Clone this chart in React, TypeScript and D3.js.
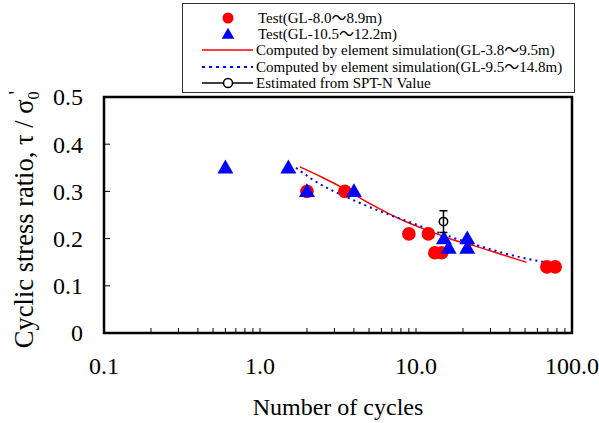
import React from "react";
import * as d3 from "d3";

const redTestN = [2.0, 3.5, 9.0, 12.0, 13.2, 14.6, 69, 78];
const redTestR = [0.30, 0.30, 0.21, 0.21, 0.17, 0.17, 0.14, 0.14];
const blueTestN = [0.6, 1.52, 2.0, 4.0, 15.1, 16.2, 21.3, 21.3];
const blueTestR = [0.35, 0.35, 0.30, 0.30, 0.20, 0.18, 0.20, 0.18];
const redSimN = [1.8, 2.5, 3.5, 5, 6.6, 9, 12, 17, 24, 35, 51];
const redSimR = [0.352, 0.33, 0.305, 0.275, 0.254, 0.233, 0.217, 0.198, 0.184, 0.167, 0.150];
const blueSimN = [1.7, 2.2, 4.2, 9.6, 21, 65, 75];
const blueSimR = [0.35, 0.324, 0.278, 0.232, 0.193, 0.151, 0.148];
const sptN = [15];
const sptR = [0.236];
const sptLo = [0.213];
const sptHi = [0.259];
const yTicks = [0, 0.1, 0.2, 0.3, 0.4, 0.5];
const xTickLabels = ["0.1", "1.0", "10.0", "100.0"];
const xDecades = [0.1, 1, 10, 100];
const legendLabels = [
  "Test(GL-8.0～8.9m)",
  "Test(GL-10.5～12.2m)",
  "Computed by element simulation(GL-3.8～9.5m)",
  "Computed by element simulation(GL-9.5～14.8m)",
  "Estimated from SPT-N Value",
];

const FONT = "'Liberation Serif', 'Times New Roman', 'Noto Sans CJK JP', serif";

export default function App() {
  const left = 104, right = 572, top = 97, bottom = 333;
  const x = d3.scaleLog().domain([0.1, 100]).range([left, right]);
  const y = d3.scaleLinear().domain([0, 0.5]).range([bottom, top]);
  const line = d3.line<[number, number]>().x((d) => x(d[0])).y((d) => y(d[1])).curve(d3.curveMonotoneX);

  const minor: number[] = [];
  xDecades.slice(0, 3).forEach((dec) => {
    for (let k = 2; k <= 9; k++) minor.push(dec * k);
  });
  minor.push(1, 10);

  const tri = d3.symbol().type(d3.symbolTriangle).size(110)()!;
  const triL = d3.symbol().type(d3.symbolTriangle).size(70)()!;

  const lx = 228;
  const ly = [18, 34, 50, 67, 83];

  return (
    <svg width={599} height={423} style={{ position: "absolute", left: 0, top: 0, background: "#fff" }} fontFamily={FONT}>
      <rect x={0} y={0} width={599} height={423} fill="#fff" />
      {/* legend */}
      <rect x={182.5} y={3.5} width={392} height={89} fill="#fff" stroke="#333" strokeWidth={1} />
      <circle cx={lx} cy={ly[0]} r={5.5} fill="#ff0000" />
      <path d={triL} transform={`translate(${lx},${ly[1] + 1})`} fill="#0000ff" />
      <line x1={202} x2={253} y1={ly[2]} y2={ly[2]} stroke="#ff0000" strokeWidth={1.5} />
      <line x1={202} x2={253} y1={ly[3]} y2={ly[3]} stroke="#0000ff" strokeWidth={2} strokeDasharray="3,4" />
      <line x1={202} x2={253} y1={ly[4]} y2={ly[4]} stroke="#000" strokeWidth={1.5} />
      <circle cx={lx} cy={ly[4]} r={4.5} fill="#fff" stroke="#000" strokeWidth={1.5} />
      {legendLabels.map((t, i) => (
        <text key={t} x={i < 2 ? 258 : 256} y={ly[i]} dy="0.35em" fontSize={15} fill="#000">
          {t}
        </text>
      ))}

      {/* plot frame ticks */}
      {yTicks.slice(1, 5).map((v) => (
        <line key={v} x1={left} x2={left + 6} y1={y(v)} y2={y(v)} stroke="#000" strokeWidth={1} />
      ))}
      {minor.map((v, i) => (
        <line key={i} x1={x(v)} x2={x(v)} y1={bottom} y2={bottom - 5} stroke="#000" strokeWidth={1} />
      ))}

      {/* simulation lines */}
      <path d={line(redSimN.map((n, i) => [n, redSimR[i]]))!} fill="none" stroke="#ff0000" strokeWidth={1.5} />
      <path
        d={line(blueSimN.map((n, i) => [n, blueSimR[i]]))!}
        fill="none"
        stroke="#0000ff"
        strokeWidth={2}
        strokeDasharray="2,4"
      />

      {/* markers */}
      {redTestN.map((n, i) => (
        <circle key={i} cx={x(n)} cy={y(redTestR[i])} r={6.8} fill="#ff0000" />
      ))}
      {blueTestN.map((n, i) => (
        <path key={i} d={tri} transform={`translate(${x(n)},${y(blueTestR[i]) + 1})`} fill="#0000ff" />
      ))}
      {sptN.map((n, i) => (
        <g key={i}>
          <line x1={x(n)} x2={x(n)} y1={y(sptLo[i])} y2={y(sptHi[i])} stroke="#000" strokeWidth={1.5} />
          <line x1={x(n) - 4} x2={x(n) + 4} y1={y(sptLo[i])} y2={y(sptLo[i])} stroke="#000" strokeWidth={1.5} />
          <line x1={x(n) - 4} x2={x(n) + 4} y1={y(sptHi[i])} y2={y(sptHi[i])} stroke="#000" strokeWidth={1.5} />
          <circle cx={x(n)} cy={y(sptR[i])} r={4.2} fill="none" stroke="#000" strokeWidth={1.5} />
        </g>
      ))}

      <rect x={left} y={top} width={right - left} height={bottom - top} fill="none" stroke="#000" strokeWidth={2.5} />

      {/* tick labels */}
      {yTicks.map((v) => (
        <text key={v} x={83} y={y(v)} dy="0.35em" textAnchor="end" fontSize={24} fill="#000">
          {v === 0 ? "0" : v.toFixed(1)}
        </text>
      ))}
      {xDecades.map((v, i) => (
        <text key={v} x={x(v)} y={374} textAnchor="middle" fontSize={24} fill="#000">
          {xTickLabels[i]}
        </text>
      ))}
      <text x={(left + right) / 2} y={415} textAnchor="middle" fontSize={24} fill="#000">
        Number of cycles
      </text>
      <text transform={`translate(33,${(82 + 357) / 2}) rotate(-90)`} textAnchor="middle" fontSize={26.5} fill="#000">
        Cyclic stress ratio, τ / σ<tspan fontSize={16} dy={6}>0</tspan>
        <tspan fontSize={20} dx={-3} dy={-16}>'</tspan>
      </text>
    </svg>
  );
}
